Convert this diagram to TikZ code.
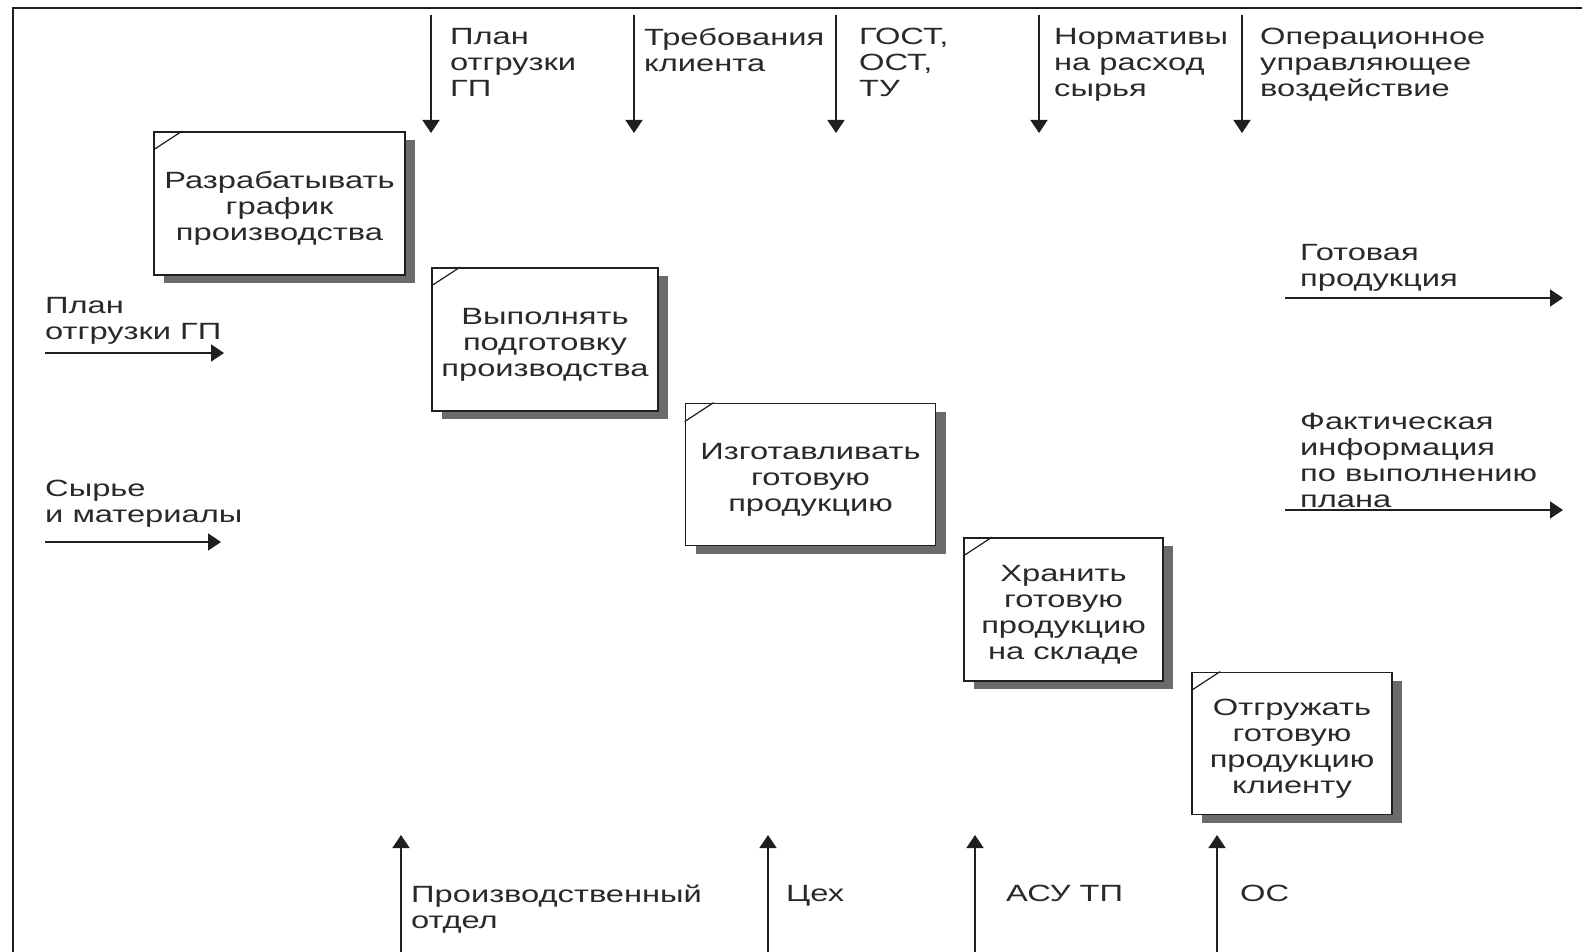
\documentclass[tikz,border=0pt]{standalone}
\usepackage{fontspec}
\setmainfont{Liberation Sans}[FakeStretch=1.39]
\usetikzlibrary{arrows.meta,shadows,calc}
\definecolor{ink}{gray}{0.12}
\definecolor{txt}{gray}{0.16}
\definecolor{shade}{gray}{0.42}
% extra headroom on the first line of a block caption
\newcommand{\headroom}{\rule{0pt}{26pt}}
\begin{document}
\begin{tikzpicture}[x=1pt,y=-1pt,
  every node/.style={font=\fontsize{23.5}{26}\selectfont},
  lbl/.style={anchor=north west, inner sep=0pt, align=left, text=txt},
  arr/.style={draw=ink, line width=1.6pt, -{Triangle[width=17pt,length=13pt]}},
  fnbox/.style={draw=ink, line width=1.8pt, fill=white, inner sep=0pt,
    align=center, text=txt,
    general shadow={fill=shade, shadow xshift=10pt, shadow yshift=-8pt}},
  corner/.style={draw=ink, line width=1.2pt},
  frame/.style={draw=ink, line width=2.6pt}]
\useasboundingbox (0,0) rectangle (1582,952);

% outer frame of the diagram sheet
\draw[frame] (13,952) -- (13,8) -- (1582,8);

% function blocks
\node[fnbox, minimum width=251pt, minimum height=143pt] (b1) at (279.5,203.5)
  {\headroom Разрабатывать\\график\\производства};
\node[fnbox, minimum width=226pt, minimum height=143pt] (b2) at (545,339.5)
  {\headroom Выполнять\\подготовку\\производства};
\node[fnbox, minimum width=250pt, minimum height=142pt] (b3) at (810.5,474.5)
  {\headroom Изготавливать\\готовую\\продукцию};
\node[fnbox, minimum width=199pt, minimum height=143pt] (b4) at (1063.5,609.5)
  {\headroom Хранить\\готовую\\продукцию\\на складе};
\node[fnbox, minimum width=200pt, minimum height=142pt] (b5) at (1292,743.5)
  {\headroom Отгружать\\готовую\\продукцию\\клиенту};

% cut corners of the blocks
\foreach \b in {b1,b2,b3,b4,b5}
  \draw[corner] ($(\b.north west)+(0,19)$) -- ($(\b.north west)+(29,0)$);

% controls (top)
\foreach \i/\x in {1/431,2/634,3/836,4/1039,5/1242} {
  \coordinate (c\i s) at (\x,15);
  \coordinate (c\i e) at (\x,133);
  \draw[arr] (c\i s) -- (c\i e);
}
\node[lbl] (lc1) at (450,28) {План\\отгрузки\\ГП};
\node[lbl] (lc2) at (644,28) {Требования\\клиента};
\node[lbl] (lc3) at (859,28) {ГОСТ,\\ОСТ,\\ТУ};
\node[lbl] (lc4) at (1054,28) {Нормативы\\на расход\\сырья};
\node[lbl] (lc5) at (1260,28) {Операционное\\управляющее\\воздействие};

% inputs (left)
\coordinate (i1s) at (45,353);
\coordinate (i1e) at (224,353);
\draw[arr] (i1s) -- (i1e);
\node[lbl] (li1) at (45,297) {План\\отгрузки ГП};
\coordinate (i2s) at (45,542);
\coordinate (i2e) at (221,542);
\draw[arr] (i2s) -- (i2e);
\node[lbl] (li2) at (45,480) {Сырье\\и материалы};

% outputs (right)
\coordinate (o1s) at (1285,298);
\coordinate (o1e) at (1563,298);
\draw[arr] (o1s) -- (o1e);
\node[lbl] (lo1) at (1300,244) {Готовая\\продукция};
\coordinate (o2s) at (1285,510);
\coordinate (o2e) at (1563,510);
\draw[arr] (o2s) -- (o2e);
\node[lbl] (lo2) at (1300,413) {Фактическая\\информация\\по выполнению\\плана};

% mechanisms (bottom)
\foreach \i/\x in {1/401,2/768,3/975,4/1217} {
  \coordinate (m\i s) at (\x,952);
  \coordinate (m\i e) at (\x,835);
  \draw[arr] (m\i s) -- (m\i e);
}
\node[lbl] (lm1) at (411,885) {Производственный\\отдел};
\node[lbl] (lm2) at (786,885) {Цех};
\node[lbl] (lm3) at (1006,885) {АСУ ТП};
\node[lbl] (lm4) at (1240,885) {ОС};
\end{tikzpicture}
\end{document}
